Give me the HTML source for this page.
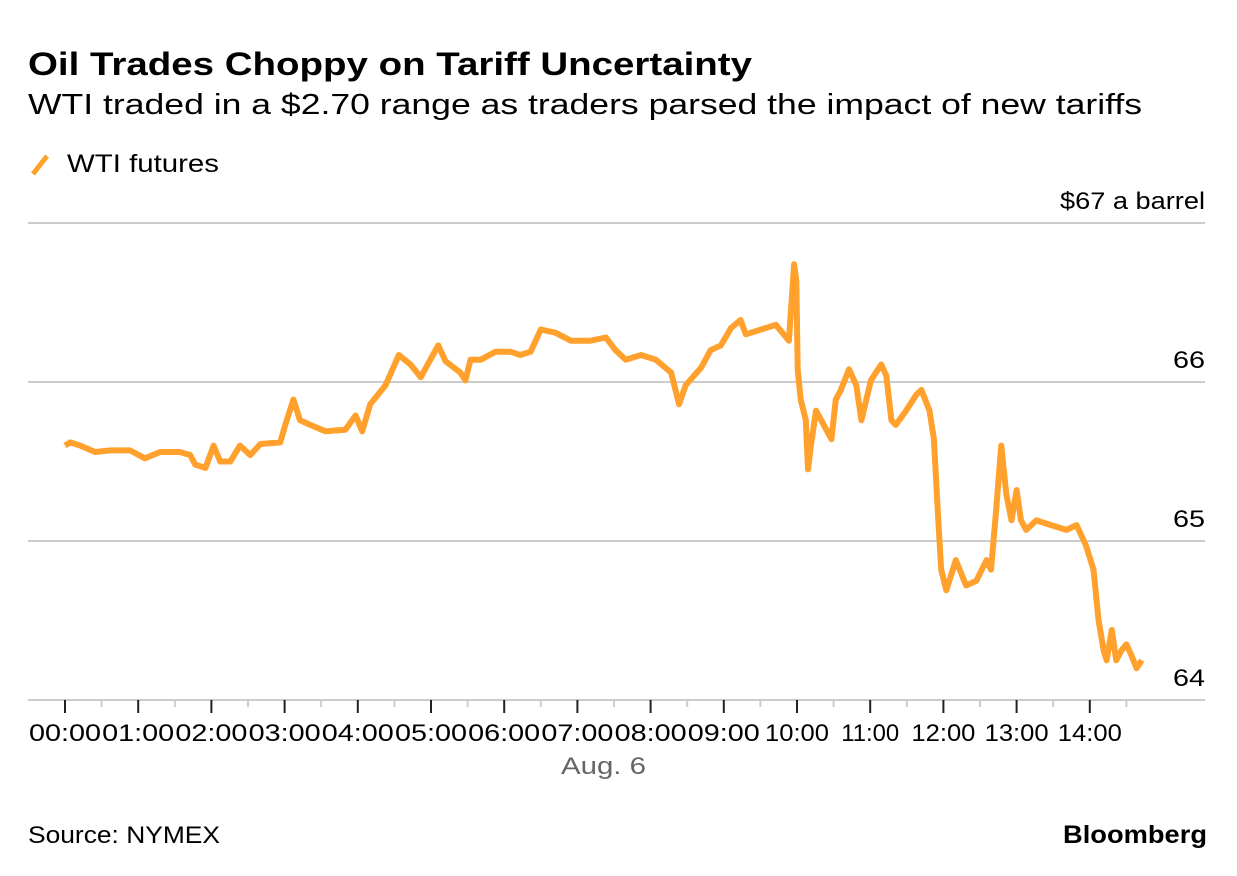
<!DOCTYPE html>
<html><head><meta charset="utf-8"><style>
body{margin:0;background:#fff;width:1237px;height:876px;overflow:hidden;font-family:"Liberation Sans",sans-serif;}
</style></head><body>
<svg width="1237" height="876" style="position:absolute;left:0;top:0">
<text x="28" y="75" font-size="32" font-weight="bold" fill="#000" textLength="724" lengthAdjust="spacingAndGlyphs">Oil Trades Choppy on Tariff Uncertainty</text>
<text x="28" y="114" font-size="29" fill="#000" textLength="1114" lengthAdjust="spacingAndGlyphs">WTI traded in a $2.70 range as traders parsed the impact of new tariffs</text>
<line x1="33" y1="174" x2="47" y2="156" stroke="#FFA12C" stroke-width="5"/>
<text x="67" y="172" font-size="25" fill="#000" textLength="152" lengthAdjust="spacingAndGlyphs">WTI futures</text>
<g id="grid"></g>
<g id="axis"></g>
<path id="line" fill="none" stroke="#FFA12C" stroke-width="6" stroke-linejoin="round"/>
<text x="561" y="774" font-size="24" fill="#666" textLength="85" lengthAdjust="spacingAndGlyphs">Aug. 6</text>
<text x="28" y="843" font-size="24" fill="#000" textLength="192" lengthAdjust="spacingAndGlyphs">Source: NYMEX</text>
<text x="1063" y="843" font-size="25" font-weight="bold" fill="#000" textLength="144" lengthAdjust="spacingAndGlyphs">Bloomberg</text>
</svg>
<script>
const yTicks=[64,65,66,67];
const yTickLabels=["64","65","66","$67 a barrel"];
const xTickHours=[0,1,2,3,4,5,6,7,8,9,10,11,12,13,14];
const xTickLabels=["00:00","01:00","02:00","03:00","04:00","05:00","06:00","07:00","08:00","09:00","10:00","11:00","12:00","13:00","14:00"];
const hours=[0,0.07,0.21,0.41,0.62,0.89,1.09,1.30,1.57,1.71,1.78,1.92,2.03,2.12,2.26,2.39,2.53,2.67,2.94,3.01,3.12,3.21,3.35,3.56,3.83,3.97,4.06,4.17,4.38,4.56,4.72,4.86,4.99,5.10,5.20,5.40,5.47,5.54,5.68,5.88,6.09,6.22,6.36,6.50,6.70,6.91,7.18,7.39,7.52,7.66,7.87,8.07,8.28,8.39,8.48,8.69,8.82,8.96,9.10,9.23,9.30,9.51,9.71,9.89,9.96,9.99,10.01,10.05,10.12,10.15,10.19,10.26,10.40,10.47,10.53,10.60,10.71,10.81,10.88,11.01,11.15,11.22,11.29,11.35,11.49,11.63,11.70,11.81,11.87,11.93,11.97,12.04,12.17,12.31,12.45,12.59,12.65,12.72,12.79,12.86,12.93,13.00,13.06,13.13,13.27,13.47,13.68,13.82,13.95,14.05,14.12,14.19,14.23,14.30,14.36,14.43,14.50,14.57,14.64,14.71];
const prices=[65.60,65.62,65.60,65.56,65.57,65.57,65.52,65.56,65.56,65.54,65.48,65.46,65.60,65.50,65.50,65.60,65.54,65.61,65.62,65.73,65.89,65.76,65.73,65.69,65.70,65.79,65.69,65.86,65.98,66.17,66.11,66.03,66.14,66.23,66.13,66.06,66.01,66.14,66.14,66.19,66.19,66.17,66.19,66.33,66.31,66.26,66.26,66.28,66.20,66.14,66.17,66.14,66.06,65.86,65.98,66.09,66.20,66.23,66.34,66.39,66.30,66.33,66.36,66.26,66.74,66.64,66.08,65.89,65.76,65.45,65.60,65.82,65.70,65.64,65.89,65.95,66.08,65.98,65.76,66.01,66.11,66.04,65.76,65.73,65.82,65.92,65.95,65.82,65.64,65.13,64.82,64.69,64.88,64.72,64.75,64.88,64.82,65.19,65.60,65.29,65.13,65.32,65.13,65.07,65.13,65.10,65.07,65.10,64.97,64.82,64.50,64.31,64.25,64.44,64.25,64.31,64.35,64.28,64.20,64.25];
const NS="http://www.w3.org/2000/svg";
const x0=65,hw=73.2,y0=700,pd=159;
function X(h){return x0+h*hw;}
function Y(p){return y0-(p-64)*pd;}
const grid=document.getElementById('grid');
yTicks.forEach((t,i)=>{
  const l=document.createElementNS(NS,'line');
  l.setAttribute('x1',28);l.setAttribute('x2',1205);l.setAttribute('y1',Y(t));l.setAttribute('y2',Y(t));
  l.setAttribute('stroke','#ccc');l.setAttribute('stroke-width','2');
  
  
  grid.appendChild(l);
  const tx=document.createElementNS(NS,'text');
  tx.setAttribute('x',1205);tx.setAttribute('y',Y(t)-14);tx.setAttribute('text-anchor','end');
  tx.setAttribute('font-size','24');
  tx.setAttribute('textLength',i==3?145:32);tx.setAttribute('lengthAdjust','spacingAndGlyphs');
  tx.textContent=yTickLabels[i];
  
  
  grid.appendChild(tx);
});
const axis=document.getElementById('axis');
xTickHours.forEach((h,i)=>{
  const l=document.createElementNS(NS,'line');
  l.setAttribute('x1',X(h));l.setAttribute('x2',X(h));l.setAttribute('y1',700);l.setAttribute('y2',713);
  l.setAttribute('stroke','#222');l.setAttribute('stroke-width','2');
  
  
  axis.appendChild(l);
  const m=document.createElementNS(NS,'line');
  m.setAttribute('x1',X(h+0.5));m.setAttribute('x2',X(h+0.5));m.setAttribute('y1',700);m.setAttribute('y2',707);
  m.setAttribute('stroke','#ccc');m.setAttribute('stroke-width','2');
  
  
  axis.appendChild(m);
  const w=h<10?72:(h==11?58:64);
  const tx=document.createElementNS(NS,'text');
  tx.setAttribute('x',X(h)-w/2);tx.setAttribute('y',741);
  tx.setAttribute('font-size','24');
  tx.setAttribute('textLength',w);tx.setAttribute('lengthAdjust','spacingAndGlyphs');
  tx.textContent=xTickLabels[i];
  
  
  axis.appendChild(tx);
});
document.getElementById('line').setAttribute('d',hours.map((h,i)=>(i?'L':'M')+X(h).toFixed(1)+','+Y(prices[i]).toFixed(1)).join(''));
</script>
</body></html>
